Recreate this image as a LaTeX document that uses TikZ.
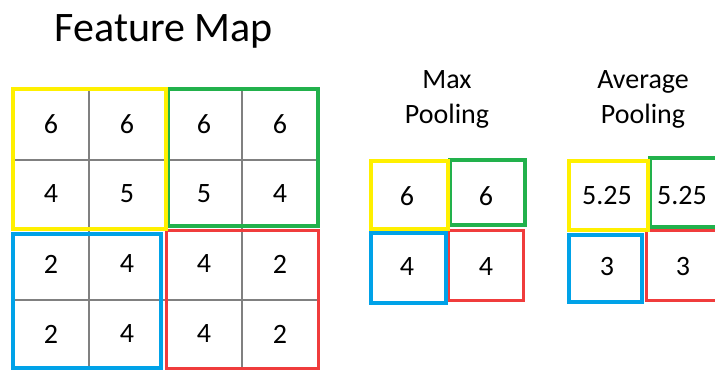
\documentclass[tikz,border=0pt]{standalone}
\usepackage{fontspec}
\setmainfont{Carlito}
\definecolor{poolyellow}{RGB}{255,240,0}
\definecolor{poolgreen}{RGB}{34,177,76}
\definecolor{poolblue}{RGB}{0,162,232}
\definecolor{poolred}{RGB}{240,60,60}
\begin{document}
\begin{tikzpicture}[x=1pt,y=-1pt,
    num/.style={font=\fontsize{28}{34}\selectfont},
    head/.style={font=\fontsize{28}{34}\selectfont,anchor=base},
    ybox/.style={draw=poolyellow,line width=4pt},
    gbox/.style={draw=poolgreen,line width=4pt},
    bbox/.style={draw=poolblue,line width=4pt},
    rbox/.style={draw=poolred,line width=3pt}]
    \useasboundingbox (0,0) rectangle (715,370);
    \clip (0,0) rectangle (715,370);
    % title
    \node[anchor=base,font=\fontsize{42}{50}\selectfont] (title) at (164,41) {Feature Map};
    % feature map grid
    \foreach \x in {89,166,242} \draw[gray,line width=1.5pt] (\x,89) -- (\x,368);
    \foreach \y in {160,230,300} \draw[gray,line width=1.5pt] (13,\y) -- (318,\y);
    \foreach \a/\b/\c/\d [count=\r] in {6/6/6/6,4/5/5/4,2/4/4/2,2/4/4/2} {
        \node[num] (cell-\r-1) at (51,{89+70*(\r-0.5)}) {\a};
        \node[num] (cell-\r-2) at (127,{89+70*(\r-0.5)}) {\b};
        \node[num] (cell-\r-3) at (204,{89+70*(\r-0.5)}) {\c};
        \node[num] (cell-\r-4) at (280,{89+70*(\r-0.5)}) {\d};
    }
    % pooling windows
    \draw[rbox] (166,230) rectangle (318,368);
    \draw[bbox] (13,234) rectangle (161,368);
    \draw[gbox] (168,89) rectangle (318,226);
    \draw[ybox] (13,89) rectangle (166,229);
    % max pooling
    \node[head] (maxa) at (447,88) {Max};
    \node[head] (maxb) at (447,123) {Pooling};
    \draw[rbox] (448,230) rectangle (523,300);
    \draw[bbox] (371,233) rectangle (446,303);
    \draw[gbox] (450,160) rectangle (525,225);
    \draw[ybox] (371,161) rectangle (448,229);
    \node[num] (max-1-1) at (407,196) {6};
    \node[num] (max-1-2) at (486,196) {6};
    \node[num] (max-2-1) at (407,267) {4};
    \node[num] (max-2-2) at (486,267) {4};
    % average pooling
    \node[head] (avga) at (643,88) {Average};
    \node[head] (avgb) at (643,123) {Pooling};
    \draw[rbox] (646,230) rectangle (730,300);
    \draw[bbox] (569,235) rectangle (642,302);
    \draw[gbox] (650,158) rectangle (730,227);
    \draw[ybox] (569,161) rectangle (648,230);
    \node[num] (avg-1-1) at (607,196) {5.25};
    \node[num] (avg-1-2) at (682,196) {5.25};
    \node[num] (avg-2-1) at (607,267) {3};
    \node[num] (avg-2-2) at (683,267) {3};
\end{tikzpicture}
\end{document}
